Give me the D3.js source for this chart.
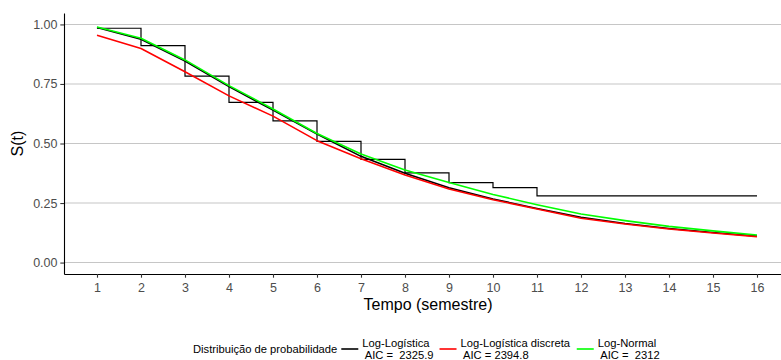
<!DOCTYPE html>
<html>
<head>
<meta charset="utf-8">
<script src="https://cdn.jsdelivr.net/npm/d3@7"></script>
<style>
    body { margin: 0; background: #fff; }
    svg { font-family: "Liberation Sans", Arial, sans-serif; display: block; }
    .grid line { stroke: #c6c6c6; stroke-width: 1.1; }
    .axis path, .axis line { stroke: #000; stroke-width: 1.1; }
    .axis .tick line { stroke: #333; }
    .axis text { fill: #4d4d4d; font-size: 12.5px; }
    .legend text { font-size: 11.2px; fill: #000; white-space: pre; }
</style>
</head>
<body>
<div class="surv-chart"></div>
<script>
    // tempo em semestres
    let tempo = [1, 2, 3, 4, 5, 6, 7, 8, 9, 10, 11, 12, 13, 14, 15, 16];

    // Kaplan-Meier (escada)
    let kaplanMeier = [0.984, 0.911, 0.783, 0.673, 0.595, 0.509, 0.433, 0.377,
        0.336, 0.315, 0.280, 0.280, 0.280, 0.280, 0.280, 0.280];

    // curvas ajustadas
    let logLogistica = [0.987, 0.938, 0.846, 0.739, 0.640, 0.540, 0.446, 0.375,
        0.314, 0.267, 0.227, 0.190, 0.164, 0.143, 0.126, 0.111];
    let logLogisticaDiscreta = [0.955, 0.899, 0.801, 0.700, 0.615, 0.512, 0.436, 0.368,
        0.309, 0.264, 0.225, 0.186, 0.162, 0.141, 0.124, 0.109];
    let logNormal = [0.989, 0.942, 0.851, 0.743, 0.645, 0.542, 0.456, 0.389,
        0.336, 0.286, 0.243, 0.204, 0.176, 0.152, 0.133, 0.116];

    let seriesNames = ["Log-Logística", "Log-Logística discreta", "Log-Normal"];
    let seriesAIC = [" AIC =  2325.9", " AIC = 2394.8", " AIC =  2312"];
    let seriesColors = ["#000000", "#ff0000", "#00ff00"];
    let yTicks = [0, 0.25, 0.5, 0.75, 1];

    let svg = d3.select(".surv-chart").append("svg")
        .attr("width", 781)
        .attr("height", 360);

    let margin = {top: 13, right: -9, bottom: 86, left: 64},
        width = 781 - margin.left - margin.right,
        height = 360 - margin.top - margin.bottom;

    let x = d3.scaleLinear().domain([0.25, 16.75]).range([margin.left, margin.left + width]);
    let y = d3.scaleLinear().domain([-0.048, 1.048]).range([margin.top + height, margin.top]);

    // grid horizontal
    svg.append("g")
        .attr("class", "grid")
        .selectAll("line")
        .data(yTicks)
        .enter().append("line")
        .attr("x1", x.range()[0])
        .attr("x2", x.range()[1])
        .attr("y1", d => y(d))
        .attr("y2", d => y(d));

    let toPoints = arr => tempo.map((t, i) => ({t: t, s: arr[i]}));

    // escada KM
    let lineStep = d3.line()
        .x(d => x(d.t))
        .y(d => y(d.s))
        .curve(d3.curveStepAfter);

    svg.append("path")
        .datum(toPoints(kaplanMeier))
        .attr("fill", "none")
        .attr("stroke", "#000")
        .attr("stroke-width", 1.2)
        .attr("d", lineStep);

    let lineCurve = d3.line()
        .x(d => x(d.t))
        .y(d => y(d.s));

    [logLogistica, logLogisticaDiscreta, logNormal].forEach((serie, i) => {
        svg.append("path")
            .datum(toPoints(serie))
            .attr("fill", "none")
            .attr("stroke", seriesColors[i])
            .attr("stroke-width", 1.6)
            .attr("stroke-linejoin", "round")
            .attr("d", lineCurve);
    });

    // eixos
    svg.append("g")
        .attr("class", "axis")
        .attr("transform", "translate(0," + (margin.top + height) + ")")
        .call(d3.axisBottom(x).tickValues(tempo).tickSize(3.7).tickSizeOuter(0).tickPadding(5.6));

    svg.append("g")
        .attr("class", "axis")
        .attr("transform", "translate(" + margin.left + ",0)")
        .call(d3.axisLeft(y).tickValues(yTicks).tickFormat(d3.format(".2f"))
            .tickSize(3.7).tickSizeOuter(0).tickPadding(2.8));

    svg.append("text")
        .attr("x", 428)
        .attr("y", 309.5)
        .attr("text-anchor", "middle")
        .attr("font-size", "16px")
        .text("Tempo (semestre)");

    svg.append("text")
        .attr("transform", "translate(23," + (margin.top + height / 2) + ") rotate(-90)")
        .attr("text-anchor", "middle")
        .attr("font-size", "16px")
        .text("S(t)");

    // legenda
    let legend = svg.append("g").attr("class", "legend");
    let legendY = 349;
    let title = legend.append("text")
        .attr("x", 193)
        .attr("y", legendY + 4)
        .text("Distribuição de probabilidade");

    let cursor = 193 + title.node().getComputedTextLength() + 4;
    seriesNames.forEach((name, i) => {
        legend.append("line")
            .attr("x1", cursor)
            .attr("x2", cursor + 17)
            .attr("y1", legendY)
            .attr("y2", legendY)
            .attr("stroke", seriesColors[i])
            .attr("stroke-width", 1.6);
        let label = legend.append("text")
            .attr("x", cursor + 21)
            .attr("y", legendY - 2);
        label.append("tspan").attr("x", cursor + 21).text(name);
        label.append("tspan").attr("x", cursor + 21).attr("dy", 11.7).text(seriesAIC[i]);
        cursor = cursor + 21 + label.node().getBBox().width + 6;
    });
</script>
</body>
</html>
